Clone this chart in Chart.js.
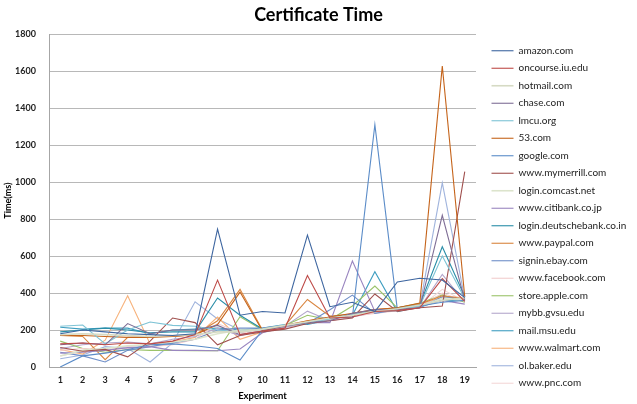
<!DOCTYPE html>
<html>
<head>
<meta charset="utf-8">
<script src="https://cdn.jsdelivr.net/npm/chart.js@4/dist/chart.umd.min.js"></script>
<style>
html,body{margin:0;padding:0;background:#fff;}
#wrap{width:637px;height:404px;}
</style>
</head>
<body>
<div id="wrap"><canvas id="c" width="637" height="404"></canvas></div>
<script>
const experiments = ["1","2","3","4","5","6","7","8","9","10","11","12","13","14","15","16","17","18","19"];
const yTicks = [0,200,400,600,800,1000,1200,1400,1600,1800];

const amazon       = [180,200,190,180,175,170,180,745,280,300,292,713,326,350,300,460,480,470,375];
const oncourse     = [125,130,120,130,125,140,175,470,175,195,210,495,265,270,300,305,320,478,355];
const hotmail      = [175,180,175,170,165,170,175,190,190,205,225,245,265,280,300,315,335,360,375];
const chase        = [120,130,120,235,180,200,200,225,175,195,220,240,250,290,310,310,320,820,360];
const lmcu         = [220,227,125,200,243,225,220,200,190,205,225,240,260,285,300,305,330,600,370];
const com53        = [170,170,165,160,160,165,175,230,405,195,225,250,270,290,310,320,346,1627,380];
const google       = [0,60,75,95,120,125,115,100,38,200,225,240,265,270,1310,310,330,350,360];
const mymerrill    = [105,85,95,55,140,265,240,120,170,190,205,235,250,265,395,300,320,330,1056];
const comcast      = [60,90,100,115,120,135,150,180,200,200,220,240,260,285,300,310,330,370,360];
const citibank     = [75,80,90,105,110,90,90,88,97,185,215,240,240,573,300,310,330,360,340];
const deutschebank = [190,200,210,200,185,190,190,373,280,205,225,235,270,285,300,320,335,650,380];
const paypal       = [170,165,40,160,165,165,175,250,420,200,225,365,275,285,310,320,340,385,370];
const ebay         = [80,60,27,90,110,130,150,200,210,210,225,235,310,389,290,310,320,380,370];
const facebook     = [90,100,95,100,110,120,150,235,185,195,215,235,255,275,290,305,325,400,355];
const apple        = [140,100,80,95,90,90,88,88,272,200,225,280,255,330,438,320,345,390,350];
const gvsu         = [100,120,130,135,125,150,165,210,170,200,220,302,250,270,295,305,320,500,350];
const msu          = [215,205,210,210,180,200,205,210,200,210,230,230,255,280,515,300,325,360,360];
const walmart      = [95,70,145,385,125,135,160,270,150,190,220,250,270,280,305,320,335,380,375];
const baker        = [45,65,110,100,27,130,353,260,200,200,225,240,260,280,300,310,330,996,370];
const pnc          = [60,85,90,110,125,130,150,200,195,195,215,235,255,275,295,305,325,420,355];

const seriesNames = ["amazon.com","oncourse.iu.edu","hotmail.com","chase.com","lmcu.org","53.com","google.com","www.mymerrill.com","login.comcast.net","www.citibank.co.jp","login.deutschebank.co.in","www.paypal.com","signin.ebay.com","www.facebook.com","store.apple.com","mybb.gvsu.edu","mail.msu.edu","www.walmart.com","ol.baker.edu","www.pnc.com"];
const seriesValues = [amazon,oncourse,hotmail,chase,lmcu,com53,google,mymerrill,comcast,citibank,deutschebank,paypal,ebay,facebook,apple,gvsu,msu,walmart,baker,pnc];
const seriesColors = ["#3E66A0","#BE4B48","#D6DAC4","#7F6E96","#7DC3D5","#C5641B","#5B8CC8","#A0504E","#DCE4CC","#9A86C0","#2A8EA8","#D9853F","#6F8FC8","#F2CDCD","#9BC36A","#B4A7CC","#3F9EC0","#F7B27B","#A0B4DD","#F4D8D8"];

const datasets = seriesNames.map((n,i)=>({
  label:n,
  data:seriesValues[i],
  borderColor:seriesColors[i],
  backgroundColor:seriesColors[i],
  borderWidth:(i===2||i===8)?1.6:1.1,
  pointRadius:0,
  tension:0,
  fill:false
}));

const legendPatch = {
  id:'legendPatch',
  beforeUpdate(chart){
    const lg = chart.legend;
    if(lg && !lg._patched){
      const f = lg.fit.bind(lg);
      lg.fit = function(){ f(); this.width = 161; };
      lg._patched = true;
    }
  },
  afterLayout(chart){
    const lg = chart.legend;
    if(lg){ lg.left += 8; lg.right += 8; lg.top += 15; lg.bottom += 15; }
  }
};

Chart.defaults.font.family = "Lato, 'Liberation Sans', sans-serif";

new Chart(document.getElementById('c'), {
  type:'line',
  data:{labels:experiments, datasets},
  options:{
    responsive:false,
    animation:false,
    layout:{padding:0},
    plugins:{
      title:{display:true,text:'Certificate Time',color:'#000',font:{size:18,weight:'bold'},padding:{top:4,bottom:8.5}},
      legend:{
        position:'right',
        labels:{
          usePointStyle:true,
          pointStyle:'line',
          pointStyleWidth:22,
          boxHeight:10,
          padding:7.5,
          color:'#222',
          font:{size:10}
        }
      },
      tooltip:{enabled:false}
    },
    scales:{
      x:{
        offset:true,
        grid:{display:false},
        border:{display:true,color:'#A6A6A6'},
        ticks:{color:'#222',font:{size:9,weight:'bold'},padding:0,maxRotation:0},
        title:{display:true,text:'Experiment',color:'#000',font:{size:9.5,weight:'bold'},padding:{top:0,bottom:2}},
        afterFit(s){ s.height = 37; }
      },
      y:{
        min:0,max:1800,
        afterBuildTicks(s){ s.ticks = yTicks.map(v=>({value:v})); },
        grid:{color:'#B8B8B8',drawTicks:false},
        border:{display:true,color:'#A6A6A6'},
        ticks:{color:'#222',font:{size:9,weight:'bold'},padding:13,callback:(v)=>String(v)},
        title:{display:true,text:'Time(ms)',color:'#000',font:{size:9,weight:'bold'},padding:{top:2.5,bottom:0}},
        afterFit(s){ s.width = 49; }
      }
    }
  },
  plugins:[legendPatch]
});
</script>
</body>
</html>
